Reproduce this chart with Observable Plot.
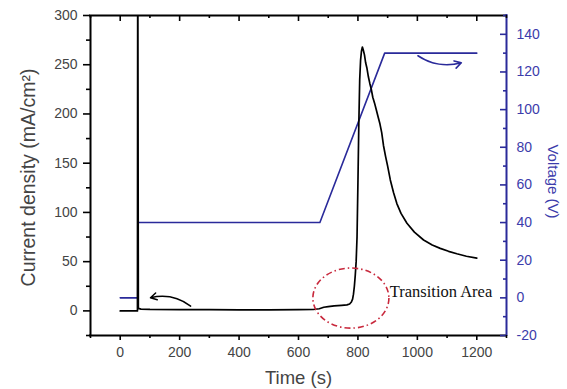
<!DOCTYPE html>
<html><head><meta charset="utf-8">
<script src="https://cdn.jsdelivr.net/npm/d3@7"></script>
<script src="https://cdn.jsdelivr.net/npm/@observablehq/plot@0.6"></script>
<style>body{margin:0;background:#fff}</style>
</head><body><div id="chart"></div>
<script>
// ---- data ----
const timeCurrent = [0, 30, 58, 59, 61, 70, 100, 200, 300, 400, 500, 600, 650, 670, 685, 700, 720, 745, 763, 772, 778, 782, 785, 788, 791, 794, 797, 800, 803, 806, 809, 812, 815, 818, 822, 826, 830, 835, 840, 845, 850, 856, 862, 868, 874, 880, 886, 893, 900, 909, 920, 931, 945, 965, 990, 1021, 1050, 1077, 1105, 1133, 1165, 1200];
const current = [0, 0, 0, 400, 2.5, 1.8, 1.5, 1.3, 1.2, 1.1, 1.1, 1.2, 1.4, 2.2, 3.7, 4.3, 5, 5.6, 6.1, 7, 9, 12, 17, 25, 36, 50, 75, 130, 190, 235, 255, 264, 268, 265, 260, 252, 247, 238, 231, 225, 217, 211, 204, 197, 190, 181, 168, 157, 147, 133, 120, 109, 99, 89, 80, 72, 67, 63.5, 60.5, 58, 55.5, 53.5];
const timeVoltage = [0, 59, 60, 672, 890, 1200];
const voltage = [0, 0, 40, 40, 130, 130];

const xTicks = [0, 200, 400, 600, 800, 1000, 1200];
const xMinorTicks = [-100, 100, 300, 500, 700, 900, 1100, 1300];
const currentTicks = [0, 50, 100, 150, 200, 250, 300];
const currentMinorTicks = [-25, 25, 75, 125, 175, 225, 275];
const voltageTicks = [-20, 0, 20, 40, 60, 80, 100, 120, 140];
const voltageMinorTicks = [-10, 10, 30, 50, 70, 90, 110, 130, 150];

const xDomain = [-100, 1300];
const currentDomain = [-25, 300];
const voltageDomain = [-20, 150];

// annotations (data units)
const transitionLabel = [{t: 907, c: 14.5, text: "Transition Area"}];
const transitionEllipse = {t: 778, c: 12.5, rt: 128, rc: 30.5};
const currentArrow = [{t1: 237, c1: 4.8, t2: 102, c2: 13.3}];
const voltageArrow = [{t1: 1002, v1: 128.6, t2: 1148, v2: 124.9}];

// ---- helpers ----
const toC = v => currentDomain[0] + (v - voltageDomain[0]) * (currentDomain[1] - currentDomain[0]) / (voltageDomain[1] - voltageDomain[0]);
const fromC = c => voltageDomain[0] + (c - currentDomain[0]) * (voltageDomain[1] - voltageDomain[0]) / (currentDomain[1] - currentDomain[0]);

const W = 567, H = 389, mL = 90, mR = 61, mT = 15, mB = 54;
const fw = W - mL - mR, fh = H - mT - mB;

const currentData = timeCurrent.map((t, i) => ({t, c: current[i]}));
const voltageData = timeVoltage.map((t, i) => ({t, c: toC(voltage[i])}));

const BLUE = "#2a2a9a";
const BLUE_TEXT = "#3c3cab";
const GRAY = "#444";
const RED = "#c8283c";

const ellipseMark = (index, scales) => {
  const cx = scales.x(transitionEllipse.t), cy = scales.y(transitionEllipse.c);
  const rx = Math.abs(scales.x(transitionEllipse.t + transitionEllipse.rt) - cx);
  const ry = Math.abs(scales.y(transitionEllipse.c + transitionEllipse.rc) - cy);
  return d3.create("svg:ellipse")
    .attr("cx", cx).attr("cy", cy).attr("rx", rx).attr("ry", ry)
    .attr("fill", "none").attr("stroke", RED).attr("stroke-width", 1.6)
    .attr("stroke-dasharray", "6,3,1.5,3").node();
};

const chart = Plot.plot({
  width: W, height: H,
  marginLeft: mL, marginRight: mR, marginTop: mT, marginBottom: mB,
  style: {fontFamily: "'Liberation Sans', Arial, sans-serif", fontSize: "14px", background: "#fff"},
  x: {domain: xDomain, axis: null},
  y: {domain: currentDomain, axis: null},
  marks: [
    // data
    Plot.line(voltageData, {x: "t", y: "c", stroke: BLUE, strokeWidth: 1.6, clip: true}),
    Plot.line(currentData, {x: "t", y: "c", stroke: "#000", strokeWidth: 1.7, clip: true}),
    // frame
    Plot.ruleY([currentDomain[0], currentDomain[1]], {stroke: "#000", strokeWidth: 2, insetLeft: -1, insetRight: -1}),
    Plot.ruleX([xDomain[0]], {stroke: "#000", strokeWidth: 2}),
    Plot.ruleX([xDomain[1]], {stroke: BLUE, strokeWidth: 2, insetTop: -1, insetBottom: -1}),
    // left ticks (outward)
    Plot.tickY(currentTicks, {y: d => d, insetLeft: -7, insetRight: fw, stroke: "#000", strokeWidth: 1.6}),
    Plot.tickY(currentMinorTicks, {y: d => d, insetLeft: -4, insetRight: fw, stroke: "#000", strokeWidth: 1.6}),
    // right ticks (inward)
    Plot.tickY(voltageTicks, {y: d => toC(d), insetLeft: fw - 6, insetRight: 0, stroke: BLUE, strokeWidth: 1.6}),
    Plot.tickY(voltageMinorTicks, {y: d => toC(d), insetLeft: fw - 3, insetRight: 0, stroke: BLUE, strokeWidth: 1.6}),
    // bottom ticks (outward)
    Plot.tickX(xTicks, {x: d => d, insetTop: fh, insetBottom: -5, stroke: "#000", strokeWidth: 1.6}),
    Plot.tickX(xMinorTicks, {x: d => d, insetTop: fh, insetBottom: -3, stroke: "#000", strokeWidth: 1.6}),
    // top ticks (inward)
    Plot.tickX(xTicks, {x: d => d, insetTop: 0, insetBottom: fh - 6, stroke: "#000", strokeWidth: 1.6}),
    Plot.tickX(xMinorTicks, {x: d => d, insetTop: 0, insetBottom: fh - 3, stroke: "#000", strokeWidth: 1.6}),
    // tick labels
    Plot.axisY(currentTicks, {anchor: "left", tickSize: 0, tickPadding: 13, color: GRAY, fontSize: 14, label: null, tickFormat: d => String(d)}),
    Plot.axisY(voltageTicks.map(toC), {anchor: "right", tickSize: 0, tickPadding: 10, color: BLUE_TEXT, fontSize: 14, label: null, tickFormat: c => String(Math.round(fromC(c)))}),
    Plot.axisX(xTicks, {anchor: "bottom", tickSize: 0, tickPadding: 12, color: GRAY, fontSize: 14, label: null, tickFormat: d => String(d)}),
    // axis titles
    Plot.text(["Time (s)"], {frameAnchor: "bottom", dy: 48, lineAnchor: "bottom", textAnchor: "middle", text: d => d, fontSize: 18.5, fill: GRAY}),
    Plot.text(["Current density (mA/cm²)"], {frameAnchor: "left", dx: -55.5, dy: 2, rotate: -90, lineAnchor: "bottom", textAnchor: "middle", text: d => d, fontSize: 19.5, fill: GRAY}),
    Plot.text(["Voltage (V)"], {frameAnchor: "right", dx: 41, dy: 6, rotate: 90, lineAnchor: "bottom", textAnchor: "middle", text: d => d, fontSize: 15, fill: BLUE_TEXT}),
    // annotations
    ellipseMark,
    Plot.text(transitionLabel, {x: "t", y: "c", text: "text", textAnchor: "start", lineAnchor: "bottom", fontFamily: "'Liberation Serif', 'Times New Roman', serif", fontSize: 16.5, fill: "#111"}),
    Plot.arrow(currentArrow, {x1: "t1", y1: "c1", x2: "t2", y2: "c2", bend: -25, stroke: "#000", strokeWidth: 1.5, headLength: 7}),
    Plot.arrow(voltageArrow, {x1: "t1", y1: d => toC(d.v1), x2: "t2", y2: d => toC(d.v2), bend: -25, stroke: BLUE, strokeWidth: 1.6, headLength: 7})
  ]
});
document.getElementById("chart").appendChild(chart);
</script>
</body></html>
